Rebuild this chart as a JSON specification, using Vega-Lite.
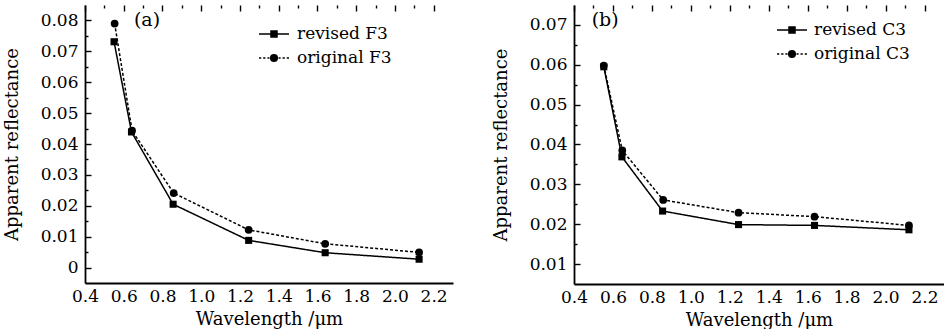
{
  "$schema": "https://vega.github.io/schema/vega-lite/v6.json",
  "padding": {"left": 3, "top": 5, "right": 0, "bottom": 0},
  "spacing": 39,
  "config": {
    "font": "DejaVu Serif",
    "view": {"stroke": null},
    "axis": {
      "grid": true,
      "ticks": false,
      "gridColor": "black",
      "gridOpacity": 1,
      "gridWidth": 1.4,
      "domainColor": "black",
      "domainWidth": 1.8,
      "labelColor": "black",
      "labelFont": "DejaVu Serif",
      "labelFontSize": 17,
      "titleFont": "DejaVu Serif",
      "titleFontSize": 18,
      "titleFontWeight": "normal",
      "titleColor": "black",
      "labelFlush": false,
      "labelOverlap": false
    },
    "legend": {
      "labelFont": "DejaVu Serif",
      "labelFontSize": 17,
      "labelColor": "black",
      "symbolSize": 900,
      "labelOffset": 7,
      "rowPadding": -6,
      "padding": 0,
      "title": null
    }
  },
  "datasets": {
    "a": [
      {"series": "revised F3", "wl": 0.55, "r": 0.0731},
      {"series": "revised F3", "wl": 0.64, "r": 0.0439},
      {"series": "revised F3", "wl": 0.855, "r": 0.0205},
      {"series": "revised F3", "wl": 1.245, "r": 0.0088},
      {"series": "revised F3", "wl": 1.64, "r": 0.0048},
      {"series": "revised F3", "wl": 2.125, "r": 0.0027},
      {"series": "original F3", "wl": 0.553, "r": 0.079},
      {"series": "original F3", "wl": 0.643, "r": 0.0443},
      {"series": "original F3", "wl": 0.858, "r": 0.0241},
      {"series": "original F3", "wl": 1.245, "r": 0.0122},
      {"series": "original F3", "wl": 1.64, "r": 0.0077},
      {"series": "original F3", "wl": 2.125, "r": 0.0049}
    ],
    "b": [
      {"series": "revised C3", "wl": 0.553, "r": 0.0595},
      {"series": "revised C3", "wl": 0.646, "r": 0.0369},
      {"series": "revised C3", "wl": 0.855, "r": 0.0233},
      {"series": "revised C3", "wl": 1.245, "r": 0.0199},
      {"series": "revised C3", "wl": 1.635, "r": 0.0197},
      {"series": "revised C3", "wl": 2.12, "r": 0.0186},
      {"series": "original C3", "wl": 0.553, "r": 0.0598},
      {"series": "original C3", "wl": 0.648, "r": 0.0385},
      {"series": "original C3", "wl": 0.858, "r": 0.0261},
      {"series": "original C3", "wl": 1.245, "r": 0.0229},
      {"series": "original C3", "wl": 1.635, "r": 0.0219},
      {"series": "original C3", "wl": 2.12, "r": 0.0197}
    ],
    "labA": [{"t": "(a)", "wl": 0.72, "r": 0.0803}],
    "labB": [{"t": "(b)", "wl": 0.56, "r": 0.0713}]
  },
  "hconcat": [
    {
      "width": 368,
      "height": 278,
      "encoding": {
        "x": {
          "field": "wl", "type": "quantitative",
          "scale": {"domain": [0.4, 2.3], "nice": false, "zero": false},
          "axis": {
            "title": "Wavelength /μm",
            "values": [0.4,0.5,0.6,0.7,0.8,0.9,1.0,1.1,1.2,1.3,1.4,1.5,1.6,1.7,1.8,1.9,2.0,2.1,2.2],
            "labelExpr": "abs(round(datum.value*10)) % 2 == 1 ? '' : format(datum.value, '.1f')",
            "gridDash": {"condition": {"test": "abs(round(datum.value*10)) % 2 == 1", "value": [3, 2000]}, "value": [6, 2000]},
            "labelPadding": 5,
            "titlePadding": 6
          }
        },
        "y": {
          "field": "r", "type": "quantitative",
          "scale": {"domain": [-0.005, 0.085], "nice": false, "zero": false},
          "axis": {
            "title": "Apparent reflectance",
            "values": [0,0.005,0.01,0.015,0.02,0.025,0.03,0.035,0.04,0.045,0.05,0.055,0.06,0.065,0.07,0.075,0.08],
            "labelExpr": "abs(round(datum.value*200)) % 2 == 1 ? '' : format(datum.value, '~g')",
            "gridDash": {"condition": {"test": "abs(round(datum.value*200)) % 2 == 1", "value": [3, 2000]}, "value": [6, 2000]},
            "labelPadding": 7,
            "titlePadding": 19
          }
        }
      },
      "layer": [
        {
          "data": {"name": "a"},
          "mark": {"type": "line", "color": "black", "strokeWidth": 1.5},
          "encoding": {
            "strokeDash": {"field": "series", "type": "nominal",
              "scale": {"domain": ["revised F3", "original F3"], "range": [[1, 0], [3, 2]]},
              "legend": null}
          }
        },
        {
          "data": {"name": "a"},
          "transform": [{"filter": "datum.series == 'revised F3'"}],
          "mark": {"type": "square", "size": 50, "color": "black", "opacity": 1}
        },
        {
          "data": {"name": "a"},
          "transform": [{"filter": "datum.series == 'original F3'"}],
          "mark": {"type": "circle", "size": 60, "color": "black", "opacity": 1}
        },
        {
          "data": {"name": "a"},
          "mark": {"type": "point", "opacity": 0, "fill": "black", "stroke": "black", "strokeWidth": 1.3},
          "encoding": {
            "shape": {"field": "series", "type": "nominal",
              "scale": {"domain": ["revised F3", "original F3"],
                "range": ["M-1,0H1M-0.2,-0.2H0.2V0.2H-0.2Z",
                          "M-1,0H-0.85M-0.72,0H-0.57M-0.44,0H-0.3M0.3,0H0.44M0.57,0H0.72M0.85,0H1M0.22,0A0.22,0.22,0,1,1,-0.22,0A0.22,0.22,0,1,1,0.22,0Z"]},
              "legend": {"orient": "none", "legendX": 173, "legendY": 13, "symbolSize": 900,
                "encode": {"symbols": {"update": {"opacity": {"value": 1}, "fill": {"value": "black"}, "fillOpacity": {"value": 1}, "stroke": {"value": "black"}, "strokeOpacity": {"value": 1}, "strokeWidth": {"value": 1.3}}}}}}
          }
        },
        {
          "data": {"name": "labA"},
          "mark": {"type": "text", "fontSize": 19, "color": "black", "font": "DejaVu Serif"},
          "encoding": {"text": {"field": "t"}}
        }
      ],
      "resolve": {"scale": {"shape": "independent"}, "legend": {"shape": "independent"}}
    },
    {
      "width": 370,
      "height": 279,
      "encoding": {
        "x": {
          "field": "wl", "type": "quantitative",
          "scale": {"domain": [0.4, 2.3], "nice": false, "zero": false},
          "axis": {
            "title": "Wavelength /μm",
            "values": [0.4,0.5,0.6,0.7,0.8,0.9,1.0,1.1,1.2,1.3,1.4,1.5,1.6,1.7,1.8,1.9,2.0,2.1,2.2],
            "labelExpr": "abs(round(datum.value*10)) % 2 == 1 ? '' : format(datum.value, '.1f')",
            "gridDash": {"condition": {"test": "abs(round(datum.value*10)) % 2 == 1", "value": [3, 2000]}, "value": [6, 2000]},
            "labelPadding": 5,
            "titlePadding": 6
          }
        },
        "y": {
          "field": "r", "type": "quantitative",
          "scale": {"domain": [0.005, 0.075], "nice": false, "zero": false},
          "axis": {
            "title": "Apparent reflectance",
            "values": [0.01,0.015,0.02,0.025,0.03,0.035,0.04,0.045,0.05,0.055,0.06,0.065,0.07],
            "labelExpr": "abs(round(datum.value*200)) % 2 == 1 ? '' : format(datum.value, '~g')",
            "gridDash": {"condition": {"test": "abs(round(datum.value*200)) % 2 == 1", "value": [3, 2000]}, "value": [6, 2000]},
            "labelPadding": 7,
            "titlePadding": 19
          }
        }
      },
      "layer": [
        {
          "data": {"name": "b"},
          "mark": {"type": "line", "color": "black", "strokeWidth": 1.5},
          "encoding": {
            "strokeDash": {"field": "series", "type": "nominal",
              "scale": {"domain": ["revised C3", "original C3"], "range": [[1, 0], [3, 2]]},
              "legend": null}
          }
        },
        {
          "data": {"name": "b"},
          "transform": [{"filter": "datum.series == 'revised C3'"}],
          "mark": {"type": "square", "size": 50, "color": "black", "opacity": 1}
        },
        {
          "data": {"name": "b"},
          "transform": [{"filter": "datum.series == 'original C3'"}],
          "mark": {"type": "circle", "size": 60, "color": "black", "opacity": 1}
        },
        {
          "data": {"name": "b"},
          "mark": {"type": "point", "opacity": 0, "fill": "black", "stroke": "black", "strokeWidth": 1.3},
          "encoding": {
            "shape": {"field": "series", "type": "nominal",
              "scale": {"domain": ["revised C3", "original C3"],
                "range": ["M-1,0H1M-0.2,-0.2H0.2V0.2H-0.2Z",
                          "M-1,0H-0.85M-0.72,0H-0.57M-0.44,0H-0.3M0.3,0H0.44M0.57,0H0.72M0.85,0H1M0.22,0A0.22,0.22,0,1,1,-0.22,0A0.22,0.22,0,1,1,0.22,0Z"]},
              "legend": {"orient": "none", "legendX": 202, "legendY": 9, "labelOffset": 6, "rowPadding": -5, "symbolSize": 900,
                "encode": {"symbols": {"update": {"opacity": {"value": 1}, "fill": {"value": "black"}, "fillOpacity": {"value": 1}, "stroke": {"value": "black"}, "strokeOpacity": {"value": 1}, "strokeWidth": {"value": 1.3}}}}}}
          }
        },
        {
          "data": {"name": "labB"},
          "mark": {"type": "text", "fontSize": 19, "color": "black", "font": "DejaVu Serif"},
          "encoding": {"text": {"field": "t"}}
        }
      ],
      "resolve": {"scale": {"shape": "independent"}, "legend": {"shape": "independent"}}
    }
  ],
  "resolve": {"scale": {"shape": "independent", "strokeDash": "independent", "x": "independent", "y": "independent"}}
}
